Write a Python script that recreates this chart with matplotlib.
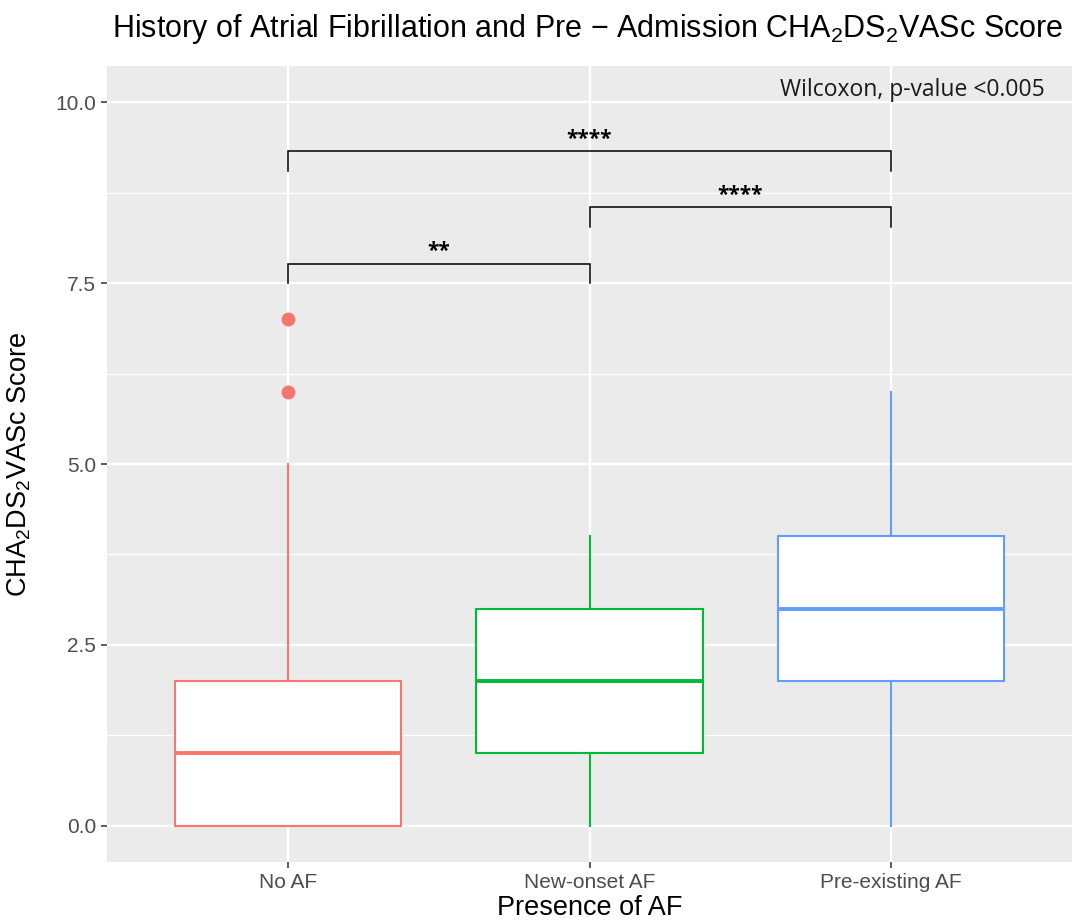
import matplotlib
matplotlib.use("Agg")
import matplotlib.pyplot as plt
from matplotlib.ticker import MultipleLocator, FormatStrFormatter

plt.rcParams["font.family"] = ["Liberation Sans", "DejaVu Sans"]
plt.rcParams["mathtext.fontset"] = "custom"
plt.rcParams["mathtext.rm"] = "Liberation Sans"
plt.rcParams["mathtext.it"] = "Liberation Sans"

groups = ["No AF", "New-onset AF", "Pre-existing AF"]
colors = ["#F8766D", "#00BA38", "#619CFF"]
q1 = [0, 1, 2]
medians = [1, 2, 3]
q3 = [2, 3, 4]
whisk_lo = [0, 0, 0]
whisk_hi = [5, 4, 6]
outliers = [[6, 7], [], []]

# pairwise comparisons: (group a, group b, bracket height, label)
comparisons = [
    (0, 1, 7.77, "**"),
    (1, 2, 8.55, "****"),
    (0, 2, 9.32, "****"),
]

fig = plt.figure(figsize=(10.79, 9.24), dpi=100)
ax = fig.add_axes([107 / 1079, 62 / 924, 965 / 1079, 796 / 924])
ax.set_facecolor("#EBEBEB")

positions = [1, 2, 3]
for i, pos in enumerate(positions):
    stats = [dict(q1=q1[i], med=medians[i], q3=q3[i], whislo=whisk_lo[i],
                  whishi=whisk_hi[i], fliers=outliers[i])]
    c = colors[i]
    ax.bxp(stats, positions=[pos], widths=0.75, patch_artist=True,
           showcaps=False, zorder=3,
           boxprops=dict(facecolor="white", edgecolor=c, linewidth=1.5),
           medianprops=dict(color=c, linewidth=2.8),
           whiskerprops=dict(color=c, linewidth=1.5),
           flierprops=dict(marker="o", markerfacecolor=c, markeredgecolor=c,
                           markersize=9))

for a, b, h, lab in comparisons:
    xa, xb = positions[a], positions[b]
    ax.plot([xa, xa, xb, xb], [h - 0.27, h, h, h - 0.27], color="black",
            linewidth=1.1, zorder=4, solid_joinstyle="miter")
    ax.text((xa + xb) / 2, h + 0.02, lab, ha="center", va="bottom",
            fontsize=15, fontweight="bold", family=["Open Sans", "DejaVu Sans"])

ax.text(3.51, 10.17, "Wilcoxon, p-value <0.005", ha="right", va="center",
        fontsize=16.5, family=["Open Sans", "DejaVu Sans"], color="#1a1a1a")

ax.set_xlim(0.4, 3.6)
ax.set_ylim(-0.5, 10.5)
ax.set_xticks(positions)
ax.set_xticklabels(groups)
ax.yaxis.set_major_locator(MultipleLocator(2.5))
ax.yaxis.set_minor_locator(MultipleLocator(1.25))
ax.yaxis.set_major_formatter(FormatStrFormatter("%.1f"))
ax.grid(which="major", color="white", linewidth=1.7, zorder=0)
ax.grid(which="minor", axis="y", color="white", linewidth=0.9, zorder=0)
ax.set_axisbelow(True)
for s in ax.spines.values():
    s.set_visible(False)
ax.tick_params(which="major", length=4, width=1.1, color="#333333",
               labelcolor="#4D4D4D", labelsize=15, pad=4)
ax.tick_params(which="minor", length=0)

ax.set_xlabel("Presence of AF", fontsize=19.5, labelpad=2)
ax.set_ylabel("CHA$_2$DS$_2$VASc Score", fontsize=19.5)
ax.yaxis.set_label_coords(-0.077, 0.5)
fig.text(0.545, 1 - 37 / 924,
         "History of Atrial Fibrillation and Pre $-$ Admission CHA$_2$DS$_2$VASc Score",
         ha="center", va="baseline", fontsize=22)

fig.savefig("out.png", dpi=100)
